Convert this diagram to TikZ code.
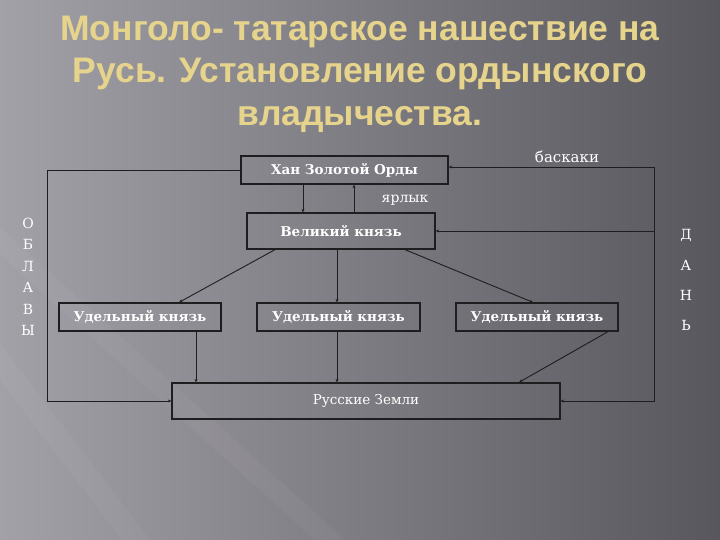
\documentclass[tikz,border=0pt]{standalone}
\usepackage{fontspec}
\setmainfont{DejaVu Serif}
\newfontfamily\titlefont{Liberation Sans}
\usetikzlibrary{arrows.meta}
\usetikzlibrary{positioning}
\usetikzlibrary{calc}
\definecolor{bgL}{RGB}{163,161,168}
\definecolor{bgM}{RGB}{112,110,116}
\definecolor{bgR}{RGB}{88,87,93}
\definecolor{gold}{RGB}{230,212,140}
\definecolor{edge}{RGB}{30,29,32}

\begin{document}
\begin{tikzpicture}[x=1pt,y=-1pt,>={Stealth[length=3.5pt,width=3pt]}]
			\tikzset{vertex/.style = {shape=rectangle, draw=edge, line width=1.3pt, inner sep=0pt, minimum height=28pt, text=white, font=\fontsize{13.5}{15}\selectfont\bfseries},
				link/.style = {draw=edge, line width=0.9pt},
				letter/.style = {text=white, font=\fontsize{14}{16}\selectfont}}
			
			\useasboundingbox (0,0) rectangle (720,540);
			\shade[left color=bgL, middle color=bgM, right color=bgR] (0,0) rectangle (720,540);
			\begin{scope}
				\clip (0,0) rectangle (720,540);
				\fill[white, opacity=0.035] (-290,0) -- (-262,0) -- (150,540) -- (122,540) -- cycle;
				\fill[white, opacity=0.035] (-280,0) -- (-250,0) -- (345,540) -- (315,540) -- cycle;
			\end{scope}
			
			\node[text=gold, align=center, font=\titlefont\fontsize{35.5}{42.5}\selectfont\bfseries] (TITLE) at (360,74)
			{Монголо- татарское нашествие на\\ Русь. Установление ордынского\\ владычества.};
			
			\node[vertex, minimum width=207pt] (KHAN) at (344.5,170) {Хан Золотой Орды};
			\node[vertex, minimum width=188pt, minimum height=36pt] (GRAND) at (341,231) {Великий князь};
			\node[vertex, minimum width=162pt] (APP1) at (140,317) {Удельный князь};
			\node[vertex, minimum width=163pt] (APP2) at (338.5,317) {Удельный князь};
			\node[vertex, minimum width=162pt] (APP3) at (537,317) {Удельный князь};
			\node[vertex, minimum width=388pt, minimum height=36pt, font=\fontsize{13.5}{15}\selectfont] (LANDS) at (366,401) {Русские Земли};
			
			\node[letter, font=\fontsize{15}{17}\selectfont] (BASKAKI) at (567,157) {баскаки};
			\node[letter] (YARLYK) at (405,200) {ярлык};
			\foreach \ch [count=\i] in {О,Б,Л,А,В,Ы}
				\node[letter] (OBL\i) at (28,201.5+21.5*\i) {\ch};
			\foreach \ch [count=\i] in {Д,А,Н,Ь}
				\node[letter] (DAN\i) at (686,205+30*\i) {\ch};
			
			\draw[link,->] ([xshift=-41.5pt]KHAN.south) -- ([xshift=-41.5pt]KHAN.south |- GRAND.north);
			\draw[link,->] ([xshift=13pt]GRAND.north) -- ([xshift=13pt]GRAND.north |- KHAN.south);
			\draw[link,->] ([xshift=-66pt]GRAND.south) -- ([xshift=39pt]APP1.north);
			\draw[link,->] ([xshift=-4pt]GRAND.south) -- ([xshift=-1.5pt]APP2.north);
			\draw[link,->] ([xshift=64pt]GRAND.south) -- ([xshift=-4pt]APP3.north);
			\draw[link,->] ([xshift=56pt]APP1.south) -- ([xshift=56pt]APP1.south |- LANDS.north);
			\draw[link,->] ([xshift=-1.5pt]APP2.south) -- ([xshift=-1.5pt]APP2.south |- LANDS.north);
			\draw[link,->] ([xshift=71pt]APP3.south) -- ([xshift=153pt]LANDS.north);
			\draw[link,->] (KHAN.west) -| ([xshift=-124pt]LANDS.west) -- (LANDS.west);
			\draw[link,<->] (LANDS.east) -| ([xshift=206pt,yshift=3pt]KHAN.east) -- ([yshift=3pt]KHAN.east);
			\draw[link,->] ([xshift=219pt]GRAND.east) -- (GRAND.east);
			
			\end{tikzpicture}
\end{document}
